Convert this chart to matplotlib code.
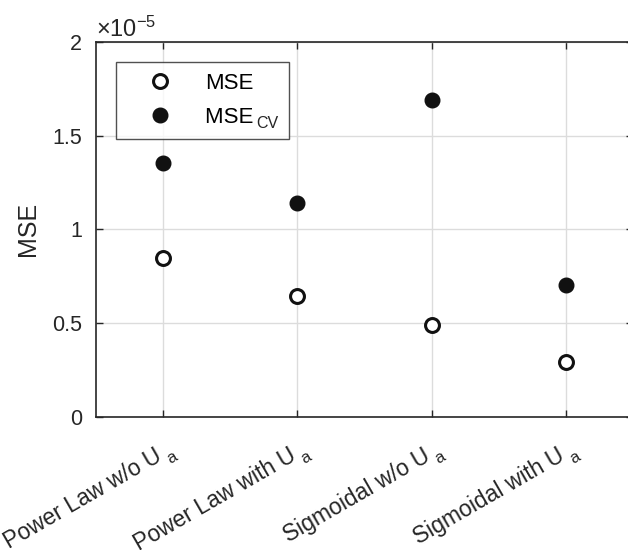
import numpy as np
import matplotlib
matplotlib.use("Agg")
import matplotlib.pyplot as plt
from matplotlib.ticker import FuncFormatter
from matplotlib.transforms import ScaledTranslation, blended_transform_factory

plt.rcParams['font.family'] = ['Liberation Sans', 'DejaVu Sans']
plt.rcParams['mathtext.default'] = 'regular'

models = ["Power Law w/o U", "Power Law with U", "Sigmoidal w/o U", "Sigmoidal with U"]
model_sub = ["a", "a", "a", "a"]
series = ["MSE", "MSE"]
series_sub = ["", "CV"]
mse = [0.845e-5, 0.645e-5, 0.488e-5, 0.295e-5]
mse_cv = [1.355e-5, 1.142e-5, 1.690e-5, 0.702e-5]

x = list(range(1, len(models) + 1))
axcol = "#262626"

fig = plt.figure(figsize=(6.28, 5.5), dpi=100)
ax = fig.add_axes([0.153, 0.242, 0.855, 0.682])

ax.plot(x, mse, 'o', mfc='white', mec='#111111', mew=2.2, ms=10, label=series[0], zorder=3)
# trailing spaces keep room in the legend box for the subscript
ax.plot(x, mse_cv, 'o', mfc='#111111', mec='#111111', ms=10.5, label=series[1] + "    ", zorder=3)

ax.set_xlim(0.5, 4.5)
ax.set_ylim(0, 2e-5)
ax.set_yticks([0, 0.5e-5, 1e-5, 1.5e-5, 2e-5])
ax.yaxis.set_major_formatter(FuncFormatter(lambda v, p: "%g" % round(v / 1e-5, 3)))
ax.set_xticks(x)
ax.set_xticklabels([])

# rotated category labels placed by hand, MATLAB-style subscript
rot = 30
trans = blended_transform_factory(ax.transData, ax.transAxes)
bx, by = 0, -43
base = ScaledTranslation(bx / 100, by / 100, fig.dpi_scale_trans)
c, s = np.cos(np.radians(rot)), np.sin(np.radians(rot))
g, d = 4, 7
sub = ScaledTranslation((bx + g * c + d * s) / 100, (by + g * s - d * c) / 100, fig.dpi_scale_trans)
for xi, name, sb in zip(x, models, model_sub):
    ax.text(xi, 0, name, transform=trans + base, rotation=rot, ha='right', va='baseline',
            rotation_mode='anchor', fontsize=16.5, color=axcol, clip_on=False)
    ax.text(xi, 0, sb, transform=trans + sub, rotation=rot, ha='left', va='baseline',
            rotation_mode='anchor', fontsize=12, color=axcol, clip_on=False)

ax.grid(True, color='#dcdcdc', lw=1)
ax.set_axisbelow(True)
ax.tick_params(direction='in', top=True, right=True, colors=axcol, length=5, width=1)
ax.tick_params(axis='y', labelsize=15.5, pad=10)
for sp in ax.spines.values():
    sp.set_color(axcol)
    sp.set_linewidth(1.2)

ax.set_ylabel("MSE", fontsize=18, color=axcol, labelpad=9)
ax.text(0.0, 1.0, r"$\times10^{-5}$", transform=ax.transAxes, fontsize=17, color=axcol, va='bottom', ha='left')

leg = ax.legend(loc='upper left', bbox_to_anchor=(0.037, 0.947), fontsize=16, frameon=True, fancybox=False,
                edgecolor=axcol, borderpad=0.5, handletextpad=0.5, labelspacing=0.6, borderaxespad=0,
                handlelength=3.0)
leg.get_frame().set_linewidth(1)

# subscripts in the legend, set just after the "MSE" word
fig.canvas.draw()
w_mse = leg.get_texts()[0].get_window_extent().width
for t, sb in zip(leg.get_texts(), series_sub):
    if sb:
        bb = t.get_window_extent()
        fig.text((bb.x0 + w_mse + 3) / fig.bbox.width, (bb.y0 - 3) / fig.bbox.height, sb,
                 fontsize=11.5, color=axcol, ha='left', va='bottom')

fig.savefig("out.png", dpi=100)
